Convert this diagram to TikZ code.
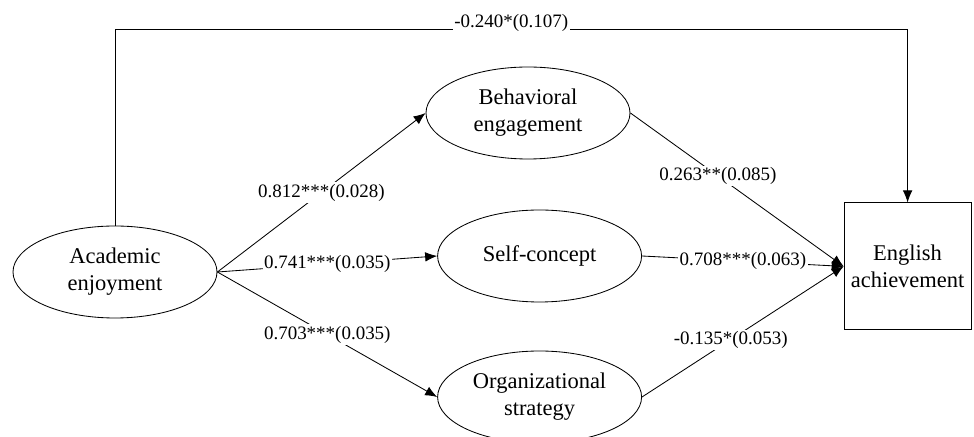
\documentclass[tikz,border=0pt]{standalone}
\usepackage{fontspec}
\setmainfont{Liberation Serif}
\usepackage{tikz}
\usetikzlibrary{shapes.geometric, arrows.meta, positioning, calc}

\begin{document}
\begin{tikzpicture}[
    latent/.style={ellipse, draw, line width=0.6pt, minimum width=5.1cm, minimum height=2.3cm, align=center, font=\fontsize{16}{19.2}\selectfont},
    observed/.style={rectangle, draw, line width=0.6pt, minimum width=3.175cm, minimum height=3.175cm, align=center, font=\fontsize{16}{19.2}\selectfont},
    coef/.style={fill=white, inner sep=1pt, font=\fontsize{13.5}{16}\selectfont},
    arrow/.style={-{Latex[length=3mm, width=2.4mm]}, line width=0.6pt}
]
\useasboundingbox (0,0) rectangle (24.35,-10.925);

\node[latent] (enjoy) at (2.875,-6.8) {Academic\\enjoyment};
\node[latent] (behav) at (13.2,-2.825) {Behavioral\\engagement};
\node[latent] (selfc) at (13.49,-6.4) {Self-concept};
\node[latent] (orgst) at (13.49,-9.925) {Organizational\\strategy};
\node[observed] (english) at (22.69,-6.66) {English\\achievement};
\coordinate (topline) at (0,-0.725);

\draw[arrow] (enjoy.east) -- node[coef] {0.812***(0.028)} (behav.west);
\draw[arrow] (enjoy.east) -- node[coef] {0.741***(0.035)} (selfc.west);
\draw[arrow] (enjoy.east) -- node[coef] {0.703***(0.035)} (orgst.west);
\draw[arrow] (behav.east) -- node[coef, pos=0.41] {0.263**(0.085)} (english.west);
\draw[arrow] (selfc.east) -- node[coef] {0.708***(0.063)} (english.west);
\draw[arrow] (orgst.east) -- node[coef, pos=0.44] {-0.135*(0.053)} (english.west);
\draw[arrow] (enjoy.north) -- (enjoy.north |- topline) -| node[coef, pos=0.25, yshift=0.15cm] {-0.240*(0.107)} (english.north);

\end{tikzpicture}
\end{document}
